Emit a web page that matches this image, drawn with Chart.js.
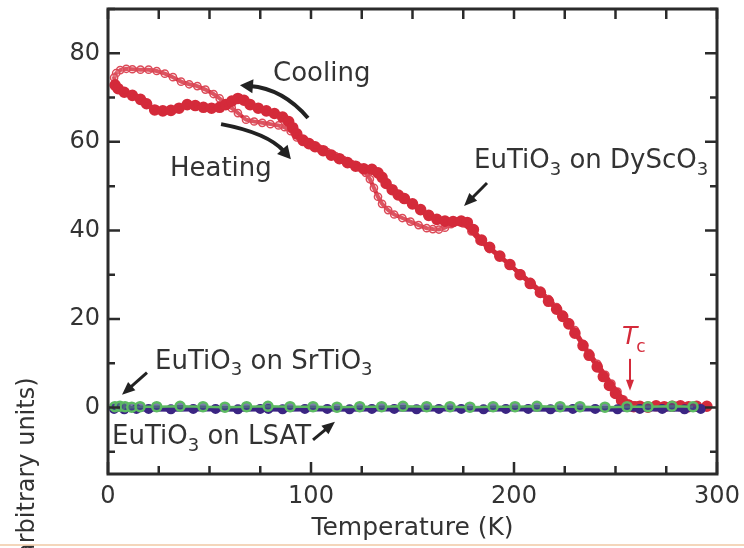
<!DOCTYPE html>
<html>
<head>
<meta charset="utf-8">
<script src="https://cdn.jsdelivr.net/npm/chart.js@4.4.1/dist/chart.umd.min.js"></script>
<style>
  html, body { margin: 0; padding: 0; background: #fff; }
  canvas { display: block; }
</style>
</head>
<body>
<canvas id="chart" width="744" height="548"></canvas>
<script>
// ─── Data ───────────────────────────────────────────────────
// EuTiO3 on DyScO3, cooling run (open circles), temperature falling
const coolT = [295, 290, 285, 280, 275, 270, 265, 260, 257, 254, 251, 248, 245, 241, 237, 234, 230, 227, 224, 221,
  217, 213, 208, 203, 198, 193, 188, 183, 179, 175, 172, 169, 166, 163, 160, 157, 153, 149, 145, 141,
  138, 135, 133, 131, 129, 127, 124, 120, 116, 112, 108, 104, 101, 98, 96, 93, 90, 87, 84, 80,
  76, 72, 68, 64, 61, 58, 55, 52, 48, 44, 40, 36, 32, 28, 24, 20, 16, 12, 9, 6, 4, 3, 3.5];
const coolY = [0.2, 0.3, 0.1, 0.4, 0.2, 0.3, 0.2, 0.5, 0.8, 1.8, 3.6, 5.4, 7.4, 9.9, 12.3, 14.4, 17.5, 19.2, 21.0, 22.7,
  24.5, 26.4, 28.4, 30.3, 32.2, 34.0, 35.8, 37.7, 39.8, 41.6, 42.0, 41.4, 40.6, 40.2, 40.3, 40.5, 41.2, 42.0, 42.8, 43.6,
  44.6, 46.0, 47.6, 49.6, 51.6, 53.0, 54.2, 55.0, 55.9, 56.8, 57.7, 58.5, 59.2, 59.8, 60.0, 61.0, 62.4, 63.3, 63.7, 64.0,
  64.3, 64.6, 65.0, 66.5, 67.6, 68.6, 69.8, 70.8, 71.8, 72.6, 73.0, 73.6, 74.6, 75.4, 76.0, 76.3, 76.3, 76.4, 76.5, 76.2, 75.5, 74.5, 73.2];

// EuTiO3 on DyScO3, heating run (filled circles), temperature rising
const heatT = [3.5, 5, 8, 12, 16, 19, 23, 27, 31, 35, 39, 43, 47, 51, 55, 58, 61, 64, 67, 70,
  74, 78, 82, 86, 89, 91, 93, 96, 99, 102, 106, 110, 114, 118, 122, 126, 130, 133, 135, 137,
  140, 143, 146, 150, 154, 158, 162, 166, 170, 174, 177, 180, 184, 188, 193, 198, 203, 208, 213, 217,
  221, 224, 227, 230, 234, 237, 241, 244, 247, 250, 253, 256, 259, 262, 266, 270, 274, 278, 282, 286, 290, 295];
const heatY = [72.8, 72.0, 71.2, 70.5, 69.6, 68.6, 67.2, 67.0, 67.1, 67.6, 68.4, 68.2, 67.8, 67.6, 67.8, 68.4, 69.2, 69.8, 69.4, 68.4,
  67.6, 67.0, 66.4, 65.6, 64.6, 63.2, 61.8, 60.4, 59.6, 58.9, 58.0, 57.0, 56.2, 55.3, 54.5, 53.9, 53.8, 53.0, 52.0, 50.6,
  49.2, 48.0, 47.2, 46.0, 44.7, 43.4, 42.5, 42.1, 42.0, 42.1, 41.8, 40.2, 37.8, 36.2, 34.2, 32.3, 30.0, 28.0, 26.0, 24.0,
  22.2, 20.6, 18.9, 16.8, 14.0, 11.8, 9.2, 7.0, 5.0, 3.2, 1.6, 0.6, 0.2, 0.3, 0.1, 0.4, 0.2, 0.3, 0.4, 0.2, 0.3, 0.3];

// EuTiO3 on SrTiO3 (green)
const stoT = [3.4, 5.9, 8.4, 11.7, 15.8, 24, 35.5, 46.8, 57.6, 68.3, 78.8, 89.7, 101, 112.8, 124, 134.8, 145.3, 157,
  168.5, 178.3, 189.7, 200.5, 211.3, 222.7, 232.5, 244.8, 255.7, 266, 277.8, 288.2];
const stoY = [0.2, 0.3, 0.2, 0.1, 0.2, 0.2, 0.3, 0.2, 0.1, 0.2, 0.3, 0.2, 0.2, 0.1, 0.2, 0.2, 0.3, 0.2,
  0.2, 0.1, 0.2, 0.2, 0.3, 0.2, 0.2, 0.1, 0.2, 0.2, 0.3, 0.2];

// EuTiO3 on LSAT (purple)
const lsatT = [3, 8, 14, 20, 31, 42, 53, 64, 75, 79, 86, 97, 108, 119, 130, 141, 152, 163, 174, 185,
  196, 207, 218, 229, 240, 251, 262, 273, 284, 292];
const lsatY = [-0.3, -0.4, -0.3, -0.3, -0.4, -0.3, -0.3, -0.4, -0.3, -0.3, -0.4, -0.3, -0.3, -0.4, -0.3, -0.3, -0.4, -0.3, -0.3, -0.4,
  -0.3, -0.3, -0.4, -0.3, -0.3, -0.4, -0.3, -0.3, -0.4, -0.3];

// Axis ticks
const xTicks = [0, 25, 50, 75, 100, 125, 150, 175, 200, 225, 250, 275, 300];
const xLabels = [0, 100, 200, 300];
const yTicks = [-10, 0, 10, 20, 30, 40, 50, 60, 70, 80, 90];
const yLabels = [0, 20, 40, 60, 80];

// Annotations, anchored in data units (left edge, baseline)
const notes = [
  { text: 'Cooling',            t: 81.3,  v: 73.8 },
  { text: 'Heating',            t: 30.5,  v: 52.3 },
  { text: 'EuTiO_3 on DyScO_3', t: 180.3, v: 54.1 },
  { text: 'EuTiO_3 on SrTiO_3', t: 23.2,  v: 8.8 },
  { text: 'EuTiO_3 on LSAT',    t: 2.0,   v: -8.2 },
];
// Arrows: tail -> (control) -> head, in data units
const arrows = [
  { from: [98.5, 65.4],  ctrl: [86.2, 72.0], to: [65.0, 72.8], w: 4 },
  { from: [55.7, 64.0],  ctrl: [78.8, 62.0], to: [90.1, 56.1], w: 4 },
  { from: [186.7, 50.7], to: [175.4, 45.5], w: 3 },
  { from: [19.2, 7.9],   to: [6.9, 2.9],    w: 3 },
  { from: [101, -7.3],   to: [111.8, -3.2], w: 3 },
];
const tcMark = { t: 253.2, v: 14.4, arrowTop: 11.0, arrowTip: 3.8 };

// ─── Styles ──────────────────────────────────────────────────
const INK    = '#2b2b2b';
const RED    = '#d42a3a';
const GREEN  = '#5cba62';
const PURPLE = '#3b2583';
const FONT   = "'DejaVu Sans', sans-serif";

const pts = (xs, ys) => xs.map((x, i) => ({ x, y: ys[i] }));

function drawRich(ctx, x, y, str, size) {
  // "_3" -> subscript 3
  const parts = str.split(/_(\w)/);
  let cx = x;
  parts.forEach((p, i) => {
    if (!p) return;
    const sub = i % 2 === 1;
    ctx.font = (sub ? Math.round(size * 0.68) : size) + 'px ' + FONT;
    ctx.fillText(p, cx, sub ? y + size * 0.26 : y);
    cx += ctx.measureText(p).width;
  });
}

function arrowHead(ctx, x, y, ang, len, wid) {
  ctx.beginPath();
  ctx.moveTo(x, y);
  ctx.lineTo(x - len * Math.cos(ang) + wid / 2 * Math.sin(ang), y - len * Math.sin(ang) - wid / 2 * Math.cos(ang));
  ctx.lineTo(x - len * Math.cos(ang) - wid / 2 * Math.sin(ang), y - len * Math.sin(ang) + wid / 2 * Math.cos(ang));
  ctx.closePath();
  ctx.fill();
}

const decor = {
  id: 'decor',
  afterDraw(chart) {
    const { ctx, chartArea: a, scales: { x, y } } = chart;
    const px = t => x.getPixelForValue(t);
    const py = v => y.getPixelForValue(v);
    ctx.save();

    // frame with inward ticks on all four sides
    ctx.strokeStyle = INK;
    ctx.lineWidth = 3;
    ctx.strokeRect(a.left, a.top, a.right - a.left, a.bottom - a.top);
    ctx.lineWidth = 2.5;
    ctx.beginPath();
    xTicks.forEach(t => {
      const X = px(t);
      const L = xLabels.includes(t) ? 12 : 8;
      ctx.moveTo(X, a.bottom); ctx.lineTo(X, a.bottom - L);
      ctx.moveTo(X, a.top);    ctx.lineTo(X, a.top + 10);
    });
    yTicks.forEach(v => {
      const Y = py(v);
      const L = yLabels.includes(v) ? 12 : 7;
      ctx.moveTo(a.left, Y);  ctx.lineTo(a.left + L, Y);
      ctx.moveTo(a.right, Y); ctx.lineTo(a.right - L, Y);
    });
    ctx.stroke();

    // text notes
    ctx.fillStyle = '#333';
    ctx.textBaseline = 'alphabetic';
    ctx.textAlign = 'left';
    notes.forEach(n => drawRich(ctx, px(n.t), py(n.v), n.text, 26));

    // arrows
    ctx.strokeStyle = '#222';
    ctx.fillStyle = '#222';
    ctx.lineCap = 'butt';
    arrows.forEach(ar => {
      const [x0, y0] = [px(ar.from[0]), py(ar.from[1])];
      const [x1, y1] = [px(ar.to[0]), py(ar.to[1])];
      let cx = x0, cy = y0;
      ctx.lineWidth = ar.w;
      ctx.beginPath();
      ctx.moveTo(x0, y0);
      if (ar.ctrl) {
        cx = px(ar.ctrl[0]); cy = py(ar.ctrl[1]);
        const ang = Math.atan2(y1 - cy, x1 - cx);
        ctx.quadraticCurveTo(cx, cy, x1 - 10 * Math.cos(ang), y1 - 10 * Math.sin(ang));
      } else {
        const ang = Math.atan2(y1 - y0, x1 - x0);
        ctx.lineTo(x1 - 10 * Math.cos(ang), y1 - 10 * Math.sin(ang));
      }
      ctx.stroke();
      arrowHead(ctx, x1, y1, Math.atan2(y1 - cy, x1 - cx), 13, ar.w * 3 + 2);
    });

    // T_c marker
    ctx.fillStyle = RED;
    ctx.strokeStyle = RED;
    ctx.font = 'italic 25px ' + FONT;
    ctx.fillText('T', px(tcMark.t), py(tcMark.v));
    const tw = ctx.measureText('T').width;
    ctx.font = '17px ' + FONT;
    ctx.fillText('c', px(tcMark.t) + tw - 1, py(tcMark.v) + 8);
    const ax = px(tcMark.t) + 8;
    ctx.lineWidth = 2;
    ctx.beginPath();
    ctx.moveTo(ax, py(tcMark.arrowTop));
    ctx.lineTo(ax, py(tcMark.arrowTip) - 8);
    ctx.stroke();
    arrowHead(ctx, ax, py(tcMark.arrowTip), Math.PI / 2, 11, 8);

    // y-axis title (cropped in the original)
    ctx.fillStyle = '#333';
    ctx.font = '24px ' + FONT;
    ctx.translate(34, py(6.8));
    ctx.rotate(-Math.PI / 2);
    ctx.textAlign = 'right';
    ctx.fillText('SHG intensity (arbitrary units)', 0, 0);
    ctx.restore();

    // page edge rule at the bottom
    ctx.save();
    ctx.strokeStyle = '#f1c8a4';
    ctx.lineWidth = 1.5;
    ctx.beginPath();
    ctx.moveTo(0, 545); ctx.lineTo(chart.width, 545);
    ctx.stroke();
    ctx.restore();
  },
};

new Chart(document.getElementById('chart'), {
  type: 'scatter',
  data: {
    datasets: [
      {
        label: 'EuTiO3 on SrTiO3',
        data: pts(stoT, stoY),
        showLine: true,
        borderColor: GREEN,
        borderWidth: 2.5,
        pointRadius: 4.5,
        pointBorderWidth: 2.5,
        pointBorderColor: GREEN,
        pointBackgroundColor: 'rgba(70,70,140,0.7)',
        order: 0,
      },
      {
        label: 'EuTiO3 on LSAT',
        data: pts(lsatT, lsatY),
        showLine: true,
        borderColor: PURPLE,
        borderWidth: 5,
        pointRadius: 2.5,
        pointBackgroundColor: PURPLE,
        pointBorderColor: PURPLE,
        order: 1,
      },
      {
        label: 'Heating',
        data: pts(heatT, heatY),
        showLine: true,
        borderColor: RED,
        borderWidth: 4,
        pointRadius: 3.8,
        pointBackgroundColor: RED,
        pointBorderColor: RED,
        order: 2,
      },
      {
        label: 'Cooling',
        data: pts(coolT, coolY),
        showLine: true,
        borderColor: RED,
        borderWidth: 4,
        pointRadius: 3.6,
        pointBorderWidth: 1.5,
        pointBackgroundColor: 'rgba(255,255,255,0.2)',
        pointBorderColor: '#dc4a58',
        order: 3,
      },
    ],
  },
  options: {
    responsive: false,
    devicePixelRatio: 1,
    animation: false,
    layout: { padding: { top: 9, right: 27, left: 0, bottom: 0 } },
    plugins: {
      legend:  { display: false },
      tooltip: { enabled: false },
    },
    scales: {
      x: {
        type: 'linear',
        min: 0,
        max: 300,
        afterBuildTicks: s => { s.ticks = xTicks.map(v => ({ value: v })); },
        afterFit: s => { s.height = 74; s.paddingLeft = 0; s.paddingRight = 0; },
        ticks: {
          autoSkip: false,
          maxRotation: 0,
          padding: 8,
          color: '#333',
          font: { family: FONT, size: 24 },
          callback: v => (xLabels.includes(v) ? String(v) : ''),
        },
        grid:   { display: false, drawTicks: false },
        border: { display: false },
        title: {
          display: true,
          text: 'Temperature (K)',
          color: '#333',
          font: { family: FONT, size: 25 },
          padding: { top: 0, bottom: 5 },
        },
      },
      y: {
        type: 'linear',
        min: -15,
        max: 90,
        afterBuildTicks: s => { s.ticks = yTicks.map(v => ({ value: v })); },
        afterFit: s => { s.width = 108; s.paddingTop = 0; s.paddingBottom = 0; },
        ticks: {
          autoSkip: false,
          padding: 8,
          color: '#333',
          font: { family: FONT, size: 24 },
          callback: v => (yLabels.includes(v) ? String(v) : ''),
        },
        grid:   { display: false, drawTicks: false },
        border: { display: false },
      },
    },
  },
  plugins: [decor],
});
</script>
</body>
</html>
